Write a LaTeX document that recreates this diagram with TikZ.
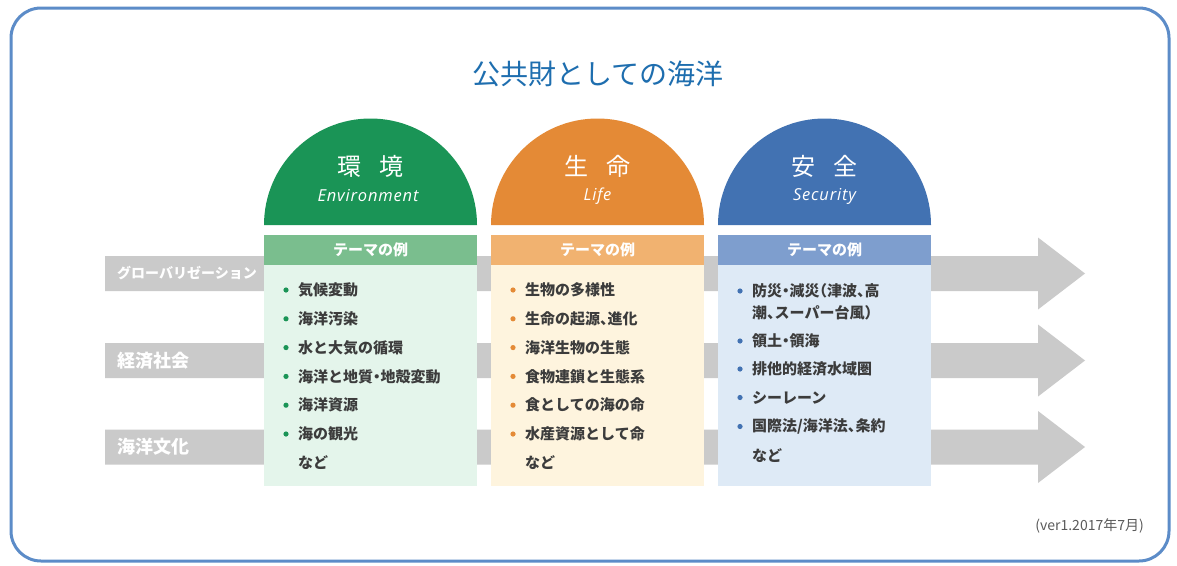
\documentclass[tikz,border=0pt]{standalone}
\usepackage{fontspec}
\setmainfont{Noto Sans CJK JP}
\newfontfamily\cjkh[RawFeature=+halt]{Noto Sans CJK JP}
\newfontfamily\latinit[LetterSpace=5]{Open Sans}
\definecolor{frameblue}{RGB}{92,140,200}
\definecolor{titleblue}{RGB}{30,110,175}
\definecolor{bargray}{RGB}{202,202,202}
\definecolor{txtgray}{RGB}{60,60,60}
\definecolor{vergray}{RGB}{90,90,90}
\definecolor{gD}{RGB}{26,148,86}
\definecolor{gH}{RGB}{122,190,142}
\definecolor{gC}{RGB}{228,245,235}
\definecolor{oD}{RGB}{228,138,54}
\definecolor{oH}{RGB}{241,178,112}
\definecolor{oC}{RGB}{254,244,222}
\definecolor{bD}{RGB}{66,114,178}
\definecolor{bH}{RGB}{126,158,206}
\definecolor{bC}{RGB}{222,234,246}
\begin{document}
\begin{tikzpicture}[x=1pt,y=-1pt,
  titlestyle/.style={inner sep=0pt,text=titleblue,font=\fontsize{28}{30}\selectfont},
  barlabel/.style={inner sep=0pt,anchor=west,text=white,font=\bfseries\fontsize{18}{20}\selectfont},
  domettl/.style={inner sep=0pt,text=white,font=\fontsize{24}{26}\selectfont},
  domesub/.style={inner sep=0pt,text=white,font=\latinit\itshape\fontsize{16.5}{18}\selectfont},
  hdr/.style={inner sep=0pt,text=white,font=\bfseries\fontsize{15}{17}\selectfont},
  item/.style={inner sep=0pt,anchor=west,text=txtgray,font=\cjkh\bfseries\fontsize{15}{17}\selectfont},
  vertext/.style={inner sep=0pt,anchor=east,text=vergray,font=\fontsize{14}{16}\selectfont},
  barshape/.style={fill=bargray}
]
\useasboundingbox (0,0) rectangle (1177,565);
\fill[white] (0,0) rectangle (1177,565);
\draw[frameblue,line width=3pt,rounded corners=30pt] (11,8) rectangle (1169,561);

\node[titlestyle] (title) at (598,74) {公共財としての海洋};

% gray arrows
\foreach \yc in {273.5,360.5,447}{
  \fill[barshape] (105,\yc-17.5) -- (1038,\yc-17.5) -- (1038,\yc-36) -- (1085,\yc)
    -- (1038,\yc+36) -- (1038,\yc+17.5) -- (105,\yc+17.5) -- cycle;
}
\node[barlabel,font=\bfseries\fontsize{14}{16}\selectfont] (glob) at (117,273.5) {グローバリゼーション};
\node[barlabel] (econ) at (117,360.5) {経済社会};
\node[barlabel] (cult) at (117,447) {海洋文化};

% columns
\foreach \lx/\cD/\cH/\cC/\nm in {264/gD/gH/gC/env,491/oD/oH/oC/life,718/bD/bH/bC/sec}{
  \fill[\cD] (\lx,225) arc[start angle=180,end angle=360,radius=106.5] -- cycle;
  \fill[\cH] (\lx,235) rectangle (\lx+213,265);
  \fill[\cC] (\lx,265) rectangle (\lx+213,486);
  \node[hdr] (\nm-hdr) at (\lx+106.5,250) {テーマの例};
}
\node[domettl] (env-t) at (370.5,166) {環\hspace{0.75em}境};
\node[domesub] (env-s) at (368,196) {Environment};
\node[domettl] (life-t) at (597.5,166) {生\hspace{0.75em}命};
\node[domesub] (life-s) at (597.5,196) {Life};
\node[domettl] (sec-t) at (824.5,166) {安\hspace{0.75em}全};
\node[domesub] (sec-s) at (824.5,196) {Security};

% green items
\foreach \yy/\tx [count=\i] in {290/気候変動,318.8/海洋汚染,347.6/水と大気の循環,376.4/海洋と地質・地殻変動,405.2/海洋資源,434/海の観光}{
  \fill[gD] (286,\yy) circle (2.6);
  \node[item] (env-i\i) at (298,\yy) {\tx};
}
\node[item] (env-etc) at (298,462.8) {など};

% orange items
\foreach \yy/\tx [count=\i] in {290/生物の多様性,318.8/生命の起源、進化,347.6/海洋生物の生態,376.4/食物連鎖と生態系,405.2/食としての海の命,434/水産資源として命}{
  \fill[oD] (513,\yy) circle (2.6);
  \node[item] (life-i\i) at (525,\yy) {\tx};
}
\node[item] (life-etc) at (525,462.8) {など};

% blue items
\fill[bD] (740,291) circle (2.6);
\node[item] (sec-i1) at (752,291) {防災・減災（津波、高};
\node[item] (sec-i1b) at (752,313) {潮、スーパー台風）};
\foreach \yy/\tx [count=\i from 2] in {341/{領土・領海},369/{排他的経済水域圏},397.5/{シーレーン},426.5/{国際法/海洋法、条約}}{
  \fill[bD] (740,\yy) circle (2.6);
  \node[item] (sec-i\i) at (752,\yy) {\tx};
}
\node[item] (sec-etc) at (752,455.5) {など};

\node[vertext] (ver) at (1144,526) {(ver1.2017年7月)};
\end{tikzpicture}
\end{document}
